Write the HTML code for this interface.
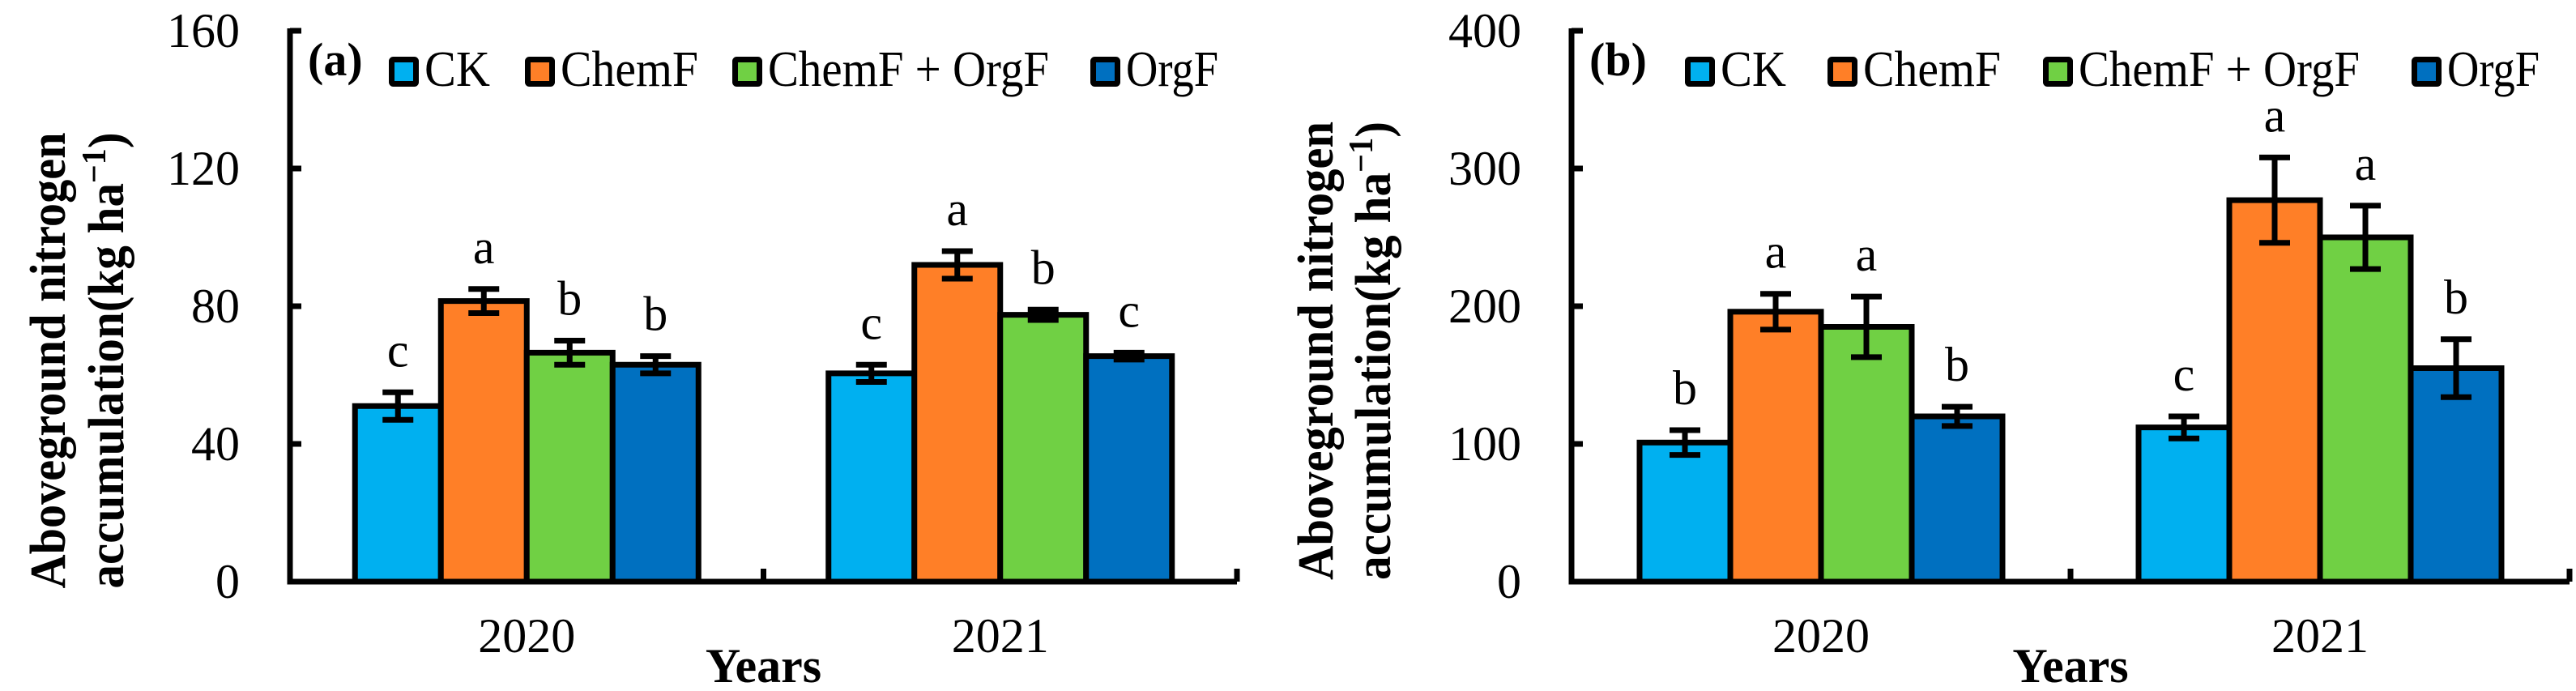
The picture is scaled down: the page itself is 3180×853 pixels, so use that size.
<!DOCTYPE html>
<html><head><meta charset="utf-8"><style>
html,body{margin:0;padding:0;background:#fff;}
svg{display:block;}
svg text{font-family:"Liberation Serif","Times New Roman",Times,serif;fill:#000;}
</style></head><body>
<svg id="chart" width="3180" height="853" viewBox="0 0 3180 853" xmlns="http://www.w3.org/2000/svg" font-family="Liberation Serif, Times New Roman, serif"></svg>
<script>
const categories = ["2020", "2021"];
const seriesNames = ["CK", "ChemF", "ChemF + OrgF", "OrgF"];
const seriesColors = ["#00B0F0", "#FF7F27", "#70D044", "#0070C0"];
// Panel (a)
const aValues = [[51, 60.5], [81.5, 92], [66.5, 77.5], [63, 65.5]];
const aErrors = [[4, 2.5], [3.5, 4], [3.5, 1.5], [2.5, 1]];
const aLetters = [["c", "c"], ["a", "a"], ["b", "b"], ["b", "c"]];
const aTicks = [0, 40, 80, 120, 160];
// Panel (b)
const bValues = [[101, 112], [196, 277], [185, 250], [120, 155]];
const bErrors = [[9, 8], [13, 31], [22, 23], [7, 21]];
const bLetters = [["b", "c"], ["a", "a"], ["a", "a"], ["b", "b"]];
const bTicks = [0, 100, 200, 300, 400];

const NS = "http://www.w3.org/2000/svg";
const svg = document.getElementById("chart");
const FF = "Liberation Serif, Times New Roman, serif";
function mk(tag, attrs, parent) {
  const e = document.createElementNS(NS, tag);
  for (const k in attrs) e.setAttribute(k, attrs[k]);
  if (tag === "text") e.setAttribute("font-family", FF);
  (parent || svg).appendChild(e);
  return e;
}
const legendLens = [81, 170, 347, 114];

function panel(cfg) {
  const g = mk("g", {});
  
  
  const y0 = 718, yTop = 38;
  const maxV = cfg.ticks[cfg.ticks.length - 1];
  const yScale = v => y0 - (v / maxV) * (y0 - yTop);
  const catW = (cfg.xEnd - cfg.x0) / categories.length;
  const barW = cfg.barW;
  const xCenter = i => cfg.x0 + catW * (i + 0.5);

  for (let s = 0; s < seriesNames.length; s++) {
    for (let c = 0; c < categories.length; c++) {
      const v = cfg.values[s][c];
      const bx = xCenter(c) - 2 * barW + s * barW;
      const by = yScale(v);
      const r = mk("rect", {x: bx, y: by, width: barW, height: y0 - by, fill: seriesColors[s], stroke: "#000", "stroke-width": 7}, g);
      
      
      const e = cfg.errors[s][c];
      const cx = bx + barW / 2;
      const eg = mk("g", {stroke: "#000", "stroke-width": 7}, g);
      
      
      mk("line", {x1: cx, x2: cx, y1: yScale(v + e), y2: yScale(v - e)}, eg);
      mk("line", {x1: cx - 19, x2: cx + 19, y1: yScale(v + e), y2: yScale(v + e)}, eg);
      mk("line", {x1: cx - 19, x2: cx + 19, y1: yScale(v - e), y2: yScale(v - e)}, eg);
      const t = mk("text", {x: cx, y: yScale(v + e) - 32, "font-size": 60, "text-anchor": "middle"}, g);
      t.textContent = cfg.letters[s][c];
      
      
    }
  }
  const ax = mk("g", {stroke: "#000", "stroke-width": 7, fill: "none"}, g);
  
  
  mk("polyline", {points: `${cfg.x0},${yTop - 3} ${cfg.x0},${y0} ${cfg.xEnd},${y0}`}, ax);
  for (const tv of cfg.ticks) {
    const ty = yScale(tv);
    mk("line", {x1: cfg.x0, x2: cfg.x0 + 14, y1: ty, y2: ty}, ax);
    const tl = mk("text", {x: cfg.x0 - 62, y: ty + 20, "font-size": 60, "text-anchor": "end", stroke: "none"}, g);
    tl.textContent = tv;
    
    
  }
  for (let i = 1; i <= categories.length; i++) {
    const tx = cfg.x0 + catW * i;
    mk("line", {x1: tx, x2: tx, y1: y0, y2: y0 - 16}, ax);
  }
  categories.forEach((c, i) => {
    const t = mk("text", {x: xCenter(i), y: 805, "font-size": 60, "text-anchor": "middle"}, g);
    t.textContent = c;
    
    
  });
  const xt = mk("text", {x: cfg.x0 + catW, y: 842, "font-size": 60, "font-weight": "bold", "text-anchor": "middle"}, g);
  xt.textContent = "Years";
  
  
  const yt = mk("g", {}, g);
  
  
  const t1 = mk("text", {transform: `translate(${cfg.tx1},${cfg.tyc}) rotate(-90)`, "font-size": 62, "font-weight": "bold", "text-anchor": "middle", textLength: cfg.tlen, lengthAdjust: "spacingAndGlyphs"}, yt);
  t1.textContent = "Aboveground nitrogen";
  const t2 = mk("text", {transform: `translate(${cfg.tx2},${cfg.tyc}) rotate(-90)`, "font-size": 62, "font-weight": "bold", "text-anchor": "middle", textLength: cfg.tlen, lengthAdjust: "spacingAndGlyphs"}, yt);
  t2.innerHTML = 'accumulation(kg ha<tspan dy="-22" font-size="42">−1</tspan><tspan dy="22">)</tspan>';
  const pl = mk("text", {x: cfg.x0 + 22, y: 93, "font-size": 58, "font-weight": "bold"}, g);
  pl.textContent = cfg.label;
  
  
  seriesNames.forEach((n, i) => {
    const lg = mk("g", {}, g);
    
    
    const lx = cfg.legendX[i];
    mk("rect", {x: lx + 3.5, y: 73.5, width: 30, height: 30, fill: seriesColors[i], stroke: "#000", "stroke-width": 7, rx: 2}, lg);
    const lt = mk("text", {x: lx + 44, y: 106, "font-size": 62, textLength: legendLens[i], lengthAdjust: "spacingAndGlyphs"}, lg);
    lt.textContent = n;
  });
}

panel({name: "panel-a", x0: 358, xEnd: 1527, barW: 106, values: aValues, errors: aErrors, letters: aLetters, ticks: aTicks, label: "(a)",
  tx1: 80, tx2: 152, tyc: 445, tlen: 563, legendX: [480, 648, 904, 1346]});
panel({name: "panel-b", x0: 1940, xEnd: 3172, barW: 112, values: bValues, errors: bErrors, letters: bLetters, ticks: bTicks, label: "(b)",
  tx1: 1645, tx2: 1716, tyc: 433, tlen: 566, legendX: [2080, 2256, 2522, 2977]});
</script>
</body></html>
